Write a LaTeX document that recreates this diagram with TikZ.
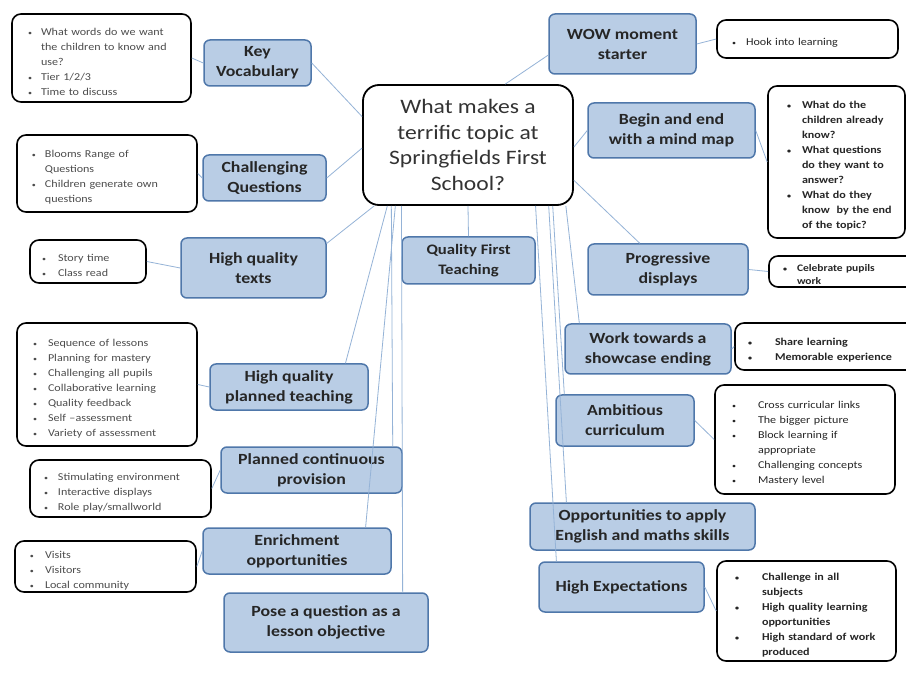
\documentclass[tikz,border=0pt]{standalone}
\usepackage{fontspec}
\setmainfont{Carlito}[FakeStretch=1.15]
\usetikzlibrary{calc}
\definecolor{bfill}{RGB}{185,205,229}
\definecolor{bdraw}{RGB}{79,119,170}
\definecolor{lnk}{RGB}{149,179,215}
\newlength\bpos \newlength\tpos
\newcommand\ib[2]{\setlength\bpos{#1pt}\setlength\tpos{#2pt}}
\newcommand\bi[1]{\par\noindent\hangindent=\tpos\hangafter=1\makebox[\tpos][l]{\hspace*{\bpos}{\scriptsize\textbullet}}#1}
\tikzset{
  bbox/.style={draw=bdraw, fill=bfill, line width=1.5pt, rounded corners=6pt, align=center,
    font=\fontsize{15.5}{20}\selectfont\bfseries, text=black!85, inner sep=0pt},
  ibox/.style={draw=black, line width=1.6pt, rounded corners=9pt, inner xsep=2pt, inner ysep=0pt,
    align=left, font=\fontsize{10.5}{15}\selectfont, text=black!70},
  iboxb/.style={ibox, font=\fontsize{10.5}{15}\selectfont\bfseries, text=black!85},
  ctrbox/.style={draw=black, line width=1.8pt, rounded corners=16pt, align=center, fill=white,
    font=\fontsize{20.5}{25.5}\selectfont, text=black!80, inner sep=0pt},
  link/.style={draw=lnk, line width=0.8pt}
}
\begin{document}
\begin{tikzpicture}[x=1pt,y=-1pt]
\useasboundingbox (0,0) rectangle (906,679);
\clip (0,0) rectangle (906,679);
\fill[white] (0,0) rectangle (906,679);

% centre
\node[ctrbox, minimum width=210pt, minimum height=120pt] (ctr) at (468,145)
  {What makes a\\terrific topic at\\Springfields First\\School?};

% blue topic boxes
\node[bbox, minimum width=107pt, minimum height=46pt] (kv) at (257.5,63) {Key\\Vocabulary};
\node[bbox, minimum width=123pt, minimum height=46pt] (cq) at (264.5,178) {Challenging\\Questions};
\node[bbox, minimum width=145pt, minimum height=60pt] (hqt) at (253.5,268) {High quality\\texts};
\node[bbox, minimum width=133pt, minimum height=47pt, font=\fontsize{14.5}{20}\selectfont\bfseries] (qft) at (468.5,260.5) {Quality First\\Teaching};
\node[bbox, minimum width=158pt, minimum height=46pt] (hqpt) at (289,387) {High quality\\planned teaching};
\node[bbox, minimum width=181pt, minimum height=46pt] (pcp) at (311.5,470) {Planned continuous\\provision};
\node[bbox, minimum width=188pt, minimum height=46pt] (eo) at (297,551) {Enrichment\\opportunities};
\node[bbox, minimum width=204pt, minimum height=59pt] (pose) at (326,622.5) {Pose a question as a\\lesson objective};
\node[bbox, minimum width=147pt, minimum height=60pt] (wow) at (622.5,44) {WOW moment\\starter};
\node[bbox, minimum width=167pt, minimum height=55pt] (bemm) at (671.5,130.5) {Begin and end\\with a mind map};
\node[bbox, minimum width=160pt, minimum height=51pt] (pd) at (668,269.5) {Progressive\\displays};
\node[bbox, minimum width=166pt, minimum height=50pt] (wtse) at (648,349) {Work towards a\\showcase ending};
\node[bbox, minimum width=138pt, minimum height=51pt] (ac) at (625,420.5) {Ambitious\\curriculum};
\node[bbox, minimum width=225pt, minimum height=47pt] (opps) at (642.5,526.5) {Opportunities to apply\\English and maths skills};
\node[bbox, minimum width=165pt, minimum height=50pt] (he) at (621.5,587) {High Expectations};

% info boxes
\node[ibox, minimum width=179pt, minimum height=88pt, text width=175pt] (kvi) at (101.5,58)
  {\ib{14}{27}\bi{What words do we want\newline the children to know and\newline use?}\bi{Tier 1/2/3}\bi{Time to discuss}\par};
\node[ibox, minimum width=180pt, minimum height=77pt, text width=176pt] (cqi) at (107,173.5)
  {\ib{13}{26}\bi{Blooms Range of\newline Questions}\bi{Children generate own\newline questions}\par};
\node[ibox, minimum width=116pt, minimum height=43pt, text width=112pt] (hqti) at (88,261.5)
  {\ib{10}{26}\bi{Story time}\bi{Class read}\par};
\node[ibox, minimum width=180pt, minimum height=123pt, text width=176pt] (hqpti) at (107,384.5)
  {\ib{14}{29}\bi{Sequence of lessons}\bi{Planning for mastery}\bi{Challenging all pupils}\bi{Collaborative learning}\bi{Quality feedback}\bi{Self --assessment}\bi{Variety of assessment}\par};
\node[ibox, minimum width=181pt, minimum height=57pt, text width=177pt] (pcpi) at (120.5,488.5)
  {\ib{12}{26}\bi{Stimulating environment}\bi{Interactive displays}\bi{Role play/smallworld}\par};
\node[ibox, minimum width=181pt, minimum height=51pt, text width=177pt] (eoi) at (105.5,566.5)
  {\ib{13}{28}\bi{Visits}\bi{Visitors}\bi{Local community}\par};
\node[ibox, text=black!85, minimum width=181pt, minimum height=38pt, text width=177pt] (wowi) at (807.5,39)
  {\ib{13}{27}\bi{Hook into learning}\par};
\node[iboxb, minimum width=137pt, minimum height=152pt, text width=133pt] (bemmi) at (836.5,162)
  {\ib{17}{32}\bi{What do the\newline children already\newline know?}\bi{What questions\newline do they want to\newline answer?}\bi{What do they\newline know~ by the end\newline of the topic?}\par};
\node[iboxb, font=\fontsize{10}{13.5}\selectfont\bfseries, minimum width=146pt, minimum height=31pt, text width=142pt] (pdi) at (842,271.5)
  {\ib{12}{26}\bi{Celebrate pupils\newline work}\par};
\node[iboxb, minimum width=180pt, minimum height=47pt, text width=176pt] (wtsei) at (825,346.5)
  {\ib{11}{38}\bi{Share learning}\bi{Memorable experience}\par};
\node[ibox, text=black!85, minimum width=180pt, minimum height=109pt, text width=176pt] (aci) at (805,439.5)
  {\ib{15}{41}\bi{Cross curricular links}\bi{The bigger picture}\bi{Block learning if\newline appropriate}\bi{Challenging concepts}\bi{Mastery level}\par};
\node[iboxb, minimum width=179pt, minimum height=100pt, text width=175pt] (hei) at (806.5,611)
  {\ib{16}{43}\bi{Challenge in all\newline subjects}\bi{High quality learning\newline opportunities}\bi{High standard of work\newline produced}\par};

% connectors from centre
\draw[link] ($(ctr.north west)!0.267!(ctr.south west)$) -- (kv.east);
\draw[link] ($(ctr.north west)!0.525!(ctr.south west)$) -- (cq.east);
\draw[link] ($(ctr.south west)!0.057!(ctr.south east)$) -- ($(hqt.north east)!0.1!(hqt.south east)$);
\draw[link] ($(ctr.south west)!0.119!(ctr.south east)$) -- ($(hqpt.north west)!0.854!(hqpt.north east)$);
\draw[link] ($(ctr.south west)!0.138!(ctr.south east)$) -- ($(pcp.north west)!0.945!(pcp.north east)$);
\draw[link] ($(ctr.south west)!0.157!(ctr.south east)$) -- ($(eo.north west)!0.862!(eo.north east)$);
\draw[link] ($(ctr.south west)!0.186!(ctr.south east)$) -- ($(pose.north west)!0.873!(pose.north east)$);
\draw[link] (ctr.south) -- (qft.north);
\draw[link] ($(ctr.north west)!0.676!(ctr.north east)$) -- ($(wow.north west)!0.68!(wow.south west)$);
\draw[link] ($(ctr.north east)!0.517!(ctr.south east)$) -- (bemm.west);
\draw[link] ($(ctr.north east)!0.79!(ctr.south east)$) -- ($(pd.north west)!0.325!(pd.north east)$);
\draw[link] ($(ctr.south west)!0.962!(ctr.south east)$) -- ($(wtse.north west)!0.09!(wtse.north east)$);
\draw[link] ($(ctr.south west)!0.9!(ctr.south east)$) -- ($(ac.north west)!0.065!(ac.north east)$);
\draw[link] ($(ctr.south west)!0.881!(ctr.south east)$) -- ($(opps.north west)!0.164!(opps.north east)$);
\draw[link] ($(ctr.south west)!0.819!(ctr.south east)$) -- ($(he.north west)!0.109!(he.north east)$);

% connectors topic -> info
\draw[link] (kvi.east) -- (kv.west);
\draw[link] (cqi.east) -- (cq.west);
\draw[link] (hqti.east) -- (hqt.west);
\draw[link] (hqpti.east) -- (hqpt.west);
\draw[link] (pcpi.east) -- (pcp.west);
\draw[link] (eoi.east) -- (eo.west);
\draw[link] (wow.east) -- (wowi.west);
\draw[link] (bemm.east) -- (bemmi.west);
\draw[link] (pd.east) -- (pdi.west);
\draw[link] (wtse.east) -- (wtsei.west);
\draw[link] (ac.east) -- (aci.west);
\draw[link] (he.east) -- (hei.west);
\end{tikzpicture}
\end{document}
